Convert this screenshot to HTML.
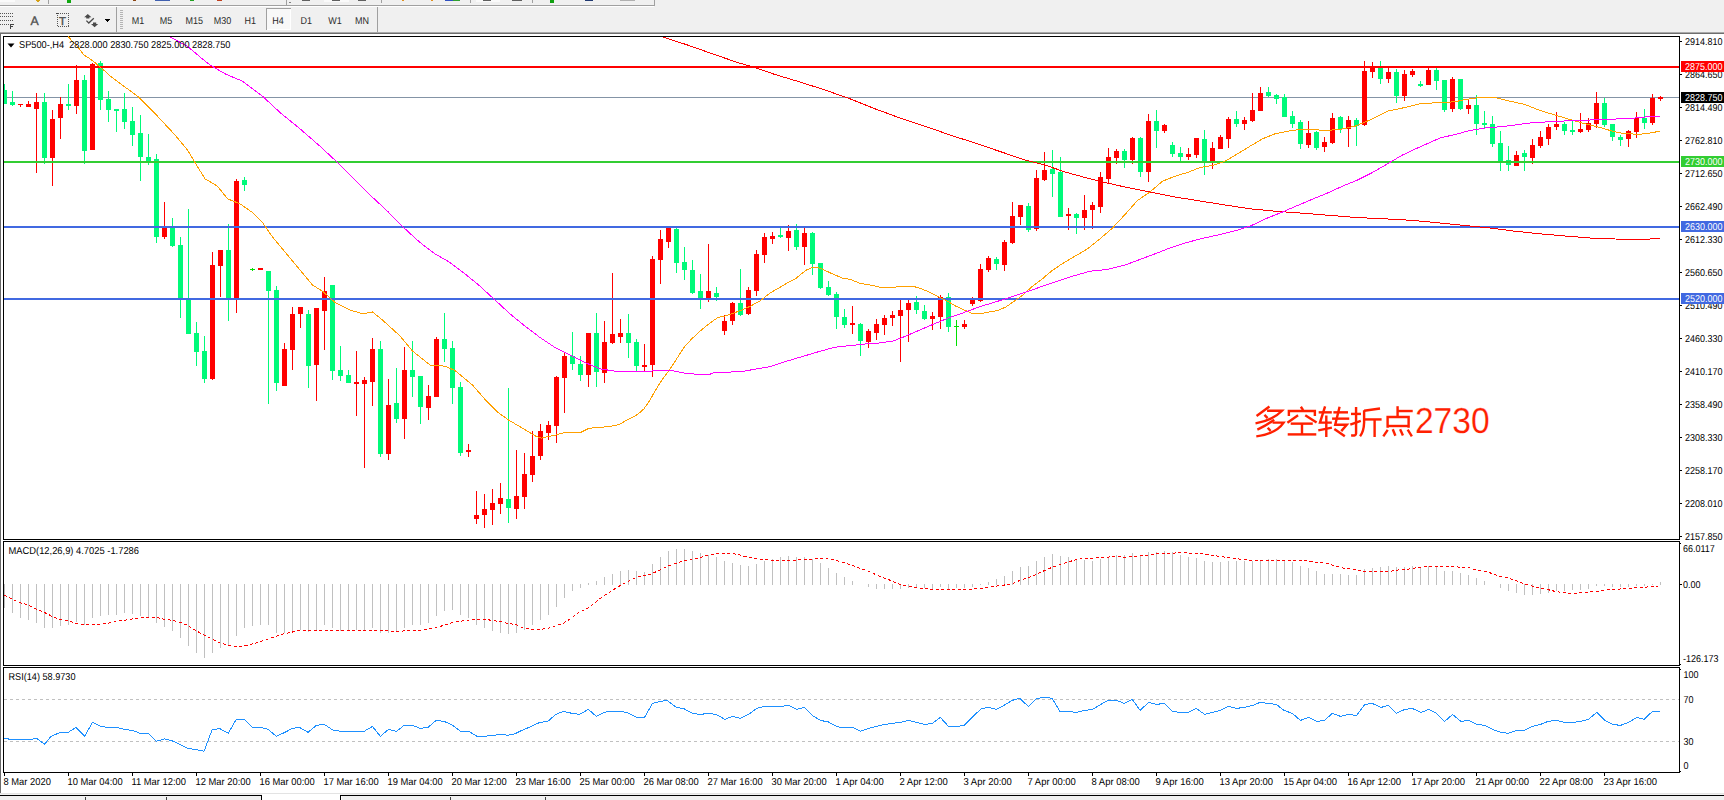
<!DOCTYPE html>
<html><head><meta charset="utf-8"><title>SP500 H4</title>
<style>
html,body{margin:0;padding:0;background:#fff;overflow:hidden}
svg{display:block;font-family:"Liberation Sans",sans-serif}
text{white-space:pre;text-rendering:geometricPrecision}
</style></head><body>
<svg width="1724" height="800" viewBox="0 0 1724 800">
<rect x="0" y="0" width="1724" height="800" fill="#ffffff"/>
<rect x="0" y="0" width="1724" height="32" fill="#f0f0f0"/>
<rect x="0" y="32" width="1724" height="1" fill="#a9a9a9"/>
<rect x="0" y="33" width="1724" height="1" fill="#6e6e6e"/>
<rect x="0" y="34" width="1" height="760" fill="#6a6a6a"/>
<rect x="0" y="5" width="655" height="1" fill="#a0a0a0"/>
<rect x="0" y="6" width="654" height="1" fill="#ffffff"/>
<rect x="654" y="0" width="1" height="6" fill="#a0a0a0"/>
<g shape-rendering="crispEdges">
<rect x="0" y="0" width="15" height="2" fill="#fafafa"/>
<path d="M35 0 h5 l-1 2.6 z" fill="#d4a017"/>
<rect x="48" y="0" width="1" height="4" fill="#a0a0a0"/>
<rect x="67" y="0" width="4" height="3" fill="#10a810"/>
<rect x="133" y="0" width="3" height="1" fill="#8b4513"/>
<rect x="155" y="0" width="15" height="1" fill="#4060b0"/>
<rect x="190" y="0" width="4" height="1" fill="#20a020"/>
<rect x="217" y="0" width="5" height="1" fill="#c04020"/>
<rect x="286" y="0" width="1" height="5" fill="#a0a0a0"/>
<rect x="289" y="2" width="2" height="1" fill="#808080"/>
<rect x="302" y="0" width="8" height="1" fill="#606060"/>
<rect x="324" y="0" width="25" height="2" fill="#fafafa"/>
<rect x="332" y="0" width="8" height="1" fill="#606060"/>
<rect x="358" y="0" width="8" height="1" fill="#606060"/>
<rect x="381" y="0" width="1" height="3" fill="#a0a0a0"/>
<rect x="402" y="0" width="2" height="1" fill="#e09020"/>
<rect x="431" y="0" width="2" height="1" fill="#e09020"/>
<rect x="445" y="0" width="8" height="1" fill="#3050c0"/><rect x="453" y="0" width="7" height="1" fill="#30a030"/>
<rect x="470" y="0" width="1" height="3" fill="#a0a0a0"/>
<rect x="476" y="0" width="24" height="2" fill="#fafafa"/>
<rect x="483" y="0" width="8" height="1" fill="#606060"/>
<rect x="512" y="0" width="10" height="1" fill="#606060"/>
<rect x="532" y="0" width="1" height="3" fill="#a0a0a0"/>
<rect x="550" y="0" width="4" height="3" fill="#10a010"/>
<rect x="585" y="0" width="8" height="1" fill="#203870"/>
<rect x="620" y="0" width="15" height="1" fill="#b0b0b0"/>
</g>

<g shape-rendering="crispEdges">
<!-- fib-like dotted icon -->
<line x1="0" y1="13.5" x2="14" y2="13.5" stroke="#555" stroke-dasharray="1,1"/>
<line x1="0" y1="16.5" x2="14" y2="16.5" stroke="#555" stroke-dasharray="1,1"/>
<line x1="0" y1="20.5" x2="14" y2="20.5" stroke="#555" stroke-dasharray="1,1"/>
<line x1="0" y1="24.5" x2="10" y2="24.5" stroke="#555" stroke-dasharray="1,1"/>
<rect x="10" y="24" width="1" height="5" fill="#444"/><rect x="10" y="24" width="4" height="1" fill="#444"/><rect x="10" y="26" width="3" height="1" fill="#444"/>
<!-- T dotted box -->
<rect x="57.5" y="13.5" width="11" height="13" fill="none" stroke="#555" stroke-dasharray="1,1"/>
<rect x="56" y="13" width="2" height="1" fill="#444"/>
<!-- separators -->
<rect x="116" y="7" width="1" height="25" fill="#a0a0a0"/>
<rect x="377" y="7" width="1" height="25" fill="#a0a0a0"/>
<!-- gripper -->
<line x1="120" y1="10" x2="120" y2="30" stroke="#b4b4b4" stroke-width="1" stroke-dasharray="1,1" transform="translate(0.5,0)"/>
<line x1="121" y1="10" x2="121" y2="30" stroke="#b4b4b4" stroke-width="1" stroke-dasharray="1,1" transform="translate(0.5,0)"/>
<line x1="122" y1="10" x2="122" y2="30" stroke="#b4b4b4" stroke-width="1" stroke-dasharray="1,1" transform="translate(0.5,0)"/>
<!-- H4 pressed -->
<rect x="266" y="8" width="25" height="22" fill="#f8f8f8"/>
<rect x="266" y="8" width="25" height="1" fill="#a0a0a0"/>
<rect x="266" y="8" width="1" height="22" fill="#a0a0a0"/>
<rect x="290" y="9" width="1" height="21" fill="#ffffff"/>
<rect x="267" y="29" width="24" height="1" fill="#ffffff"/>
<!-- dropdown arrow -->
<path d="M105 19 h5 l-2.5 3 z" fill="#000"/>
</g>
<!-- A icon -->
<text x="30.6" y="24.8" font-size="12.3" fill="#505050" stroke="#505050" stroke-width="0.35">A</text>
<text x="59" y="24.7" font-size="11.3" fill="#505050" stroke="#505050" stroke-width="0.45">T</text>
<!-- arrows icon -->
<path d="M87.8 14 l3.6 3.2 h-2 v1.4 h-3.2 v-1.4 h-2 z M94.6 27.2 l3.6 -3.2 h-2 v-1.4 h-3.2 v1.4 h-2 z" fill="#4a4a4a"/>
<path d="M86.4 20.6 l2.4 2.4 l5 -4.8" stroke="#4a4a4a" stroke-width="1.3" fill="none"/>

<text x="131.7" y="23.8" font-size="10.0" fill="#2a2a2a" textLength="12.50" lengthAdjust="spacingAndGlyphs">M1</text>
<text x="159.7" y="23.8" font-size="10.0" fill="#2a2a2a" textLength="12.50" lengthAdjust="spacingAndGlyphs">M5</text>
<text x="185.5" y="23.8" font-size="10.0" fill="#2a2a2a" textLength="17.51" lengthAdjust="spacingAndGlyphs">M15</text>
<text x="213.7" y="23.8" font-size="10.0" fill="#2a2a2a" textLength="17.51" lengthAdjust="spacingAndGlyphs">M30</text>
<text x="244.6" y="23.8" font-size="10.0" fill="#2a2a2a" textLength="11.50" lengthAdjust="spacingAndGlyphs">H1</text>
<text x="272.2" y="23.8" font-size="10.0" fill="#2a2a2a" textLength="11.50" lengthAdjust="spacingAndGlyphs">H4</text>
<text x="300.6" y="23.8" font-size="10.0" fill="#2a2a2a" textLength="11.50" lengthAdjust="spacingAndGlyphs">D1</text>
<text x="328.2" y="23.8" font-size="10.0" fill="#2a2a2a" textLength="13.50" lengthAdjust="spacingAndGlyphs">W1</text>
<text x="355.0" y="23.8" font-size="10.0" fill="#2a2a2a" textLength="14.00" lengthAdjust="spacingAndGlyphs">MN</text>
<rect x="3" y="36" width="1677" height="1" fill="#000"/>
<rect x="3" y="539" width="1677" height="1" fill="#000"/>
<rect x="3" y="36" width="1" height="504" fill="#000"/>
<rect x="1679" y="36" width="1" height="504" fill="#000"/>
<rect x="3" y="541" width="1677" height="1" fill="#000"/>
<rect x="3" y="665" width="1677" height="1" fill="#000"/>
<rect x="3" y="541" width="1" height="125" fill="#000"/>
<rect x="1679" y="541" width="1" height="125" fill="#000"/>
<rect x="3" y="667" width="1677" height="1" fill="#000"/>
<rect x="3" y="772" width="1677" height="1" fill="#000"/>
<rect x="3" y="667" width="1" height="106" fill="#000"/>
<rect x="1679" y="667" width="1" height="106" fill="#000"/>
<g shape-rendering="crispEdges">
<rect x="4" y="97" width="1675" height="1" fill="#8494a6"/>
<rect x="4" y="84" width="1" height="20" fill="#00fa7a"/>
<rect x="4" y="90" width="3" height="14" fill="#00fa7a"/>
<rect x="12" y="91" width="1" height="15" fill="#00fa7a"/>
<rect x="10" y="102" width="5" height="3" fill="#00fa7a"/>
<rect x="20" y="104" width="1" height="3" fill="#ff0000"/>
<rect x="18" y="104" width="5" height="1" fill="#ff0000"/>
<rect x="28" y="101" width="1" height="6" fill="#ff0000"/>
<rect x="26" y="104" width="5" height="3" fill="#ff0000"/>
<rect x="36" y="93" width="1" height="80" fill="#ff0000"/>
<rect x="34" y="102" width="5" height="7" fill="#ff0000"/>
<rect x="44" y="93" width="1" height="71" fill="#00fa7a"/>
<rect x="42" y="102" width="5" height="56" fill="#00fa7a"/>
<rect x="52" y="110" width="1" height="76" fill="#ff0000"/>
<rect x="50" y="119" width="5" height="39" fill="#ff0000"/>
<rect x="60" y="97" width="1" height="42" fill="#ff0000"/>
<rect x="58" y="104" width="5" height="14" fill="#ff0000"/>
<rect x="68" y="84" width="1" height="26" fill="#00fa7a"/>
<rect x="66" y="104" width="5" height="2" fill="#00fa7a"/>
<rect x="76" y="65" width="1" height="49" fill="#ff0000"/>
<rect x="74" y="80" width="5" height="26" fill="#ff0000"/>
<rect x="84" y="75" width="1" height="89" fill="#00fa7a"/>
<rect x="82" y="80" width="5" height="71" fill="#00fa7a"/>
<rect x="92" y="63" width="1" height="87" fill="#ff0000"/>
<rect x="90" y="64" width="5" height="86" fill="#ff0000"/>
<rect x="100" y="61" width="1" height="49" fill="#00fa7a"/>
<rect x="98" y="63" width="5" height="37" fill="#00fa7a"/>
<rect x="108" y="91" width="1" height="31" fill="#00fa7a"/>
<rect x="106" y="99" width="5" height="11" fill="#00fa7a"/>
<rect x="116" y="109" width="1" height="23" fill="#00fa7a"/>
<rect x="114" y="109" width="5" height="2" fill="#00fa7a"/>
<rect x="124" y="93" width="1" height="36" fill="#00fa7a"/>
<rect x="122" y="109" width="5" height="13" fill="#00fa7a"/>
<rect x="132" y="107" width="1" height="39" fill="#00fa7a"/>
<rect x="130" y="121" width="5" height="14" fill="#00fa7a"/>
<rect x="140" y="115" width="1" height="66" fill="#00fa7a"/>
<rect x="138" y="133" width="5" height="24" fill="#00fa7a"/>
<rect x="148" y="134" width="1" height="31" fill="#00fa7a"/>
<rect x="146" y="157" width="5" height="5" fill="#00fa7a"/>
<rect x="156" y="154" width="1" height="89" fill="#00fa7a"/>
<rect x="154" y="159" width="5" height="78" fill="#00fa7a"/>
<rect x="164" y="202" width="1" height="37" fill="#ff0000"/>
<rect x="162" y="228" width="5" height="9" fill="#ff0000"/>
<rect x="172" y="218" width="1" height="29" fill="#00fa7a"/>
<rect x="170" y="228" width="5" height="18" fill="#00fa7a"/>
<rect x="180" y="237" width="1" height="81" fill="#00fa7a"/>
<rect x="178" y="245" width="5" height="53" fill="#00fa7a"/>
<rect x="188" y="209" width="1" height="125" fill="#00fa7a"/>
<rect x="186" y="298" width="5" height="36" fill="#00fa7a"/>
<rect x="196" y="322" width="1" height="44" fill="#00fa7a"/>
<rect x="194" y="333" width="5" height="19" fill="#00fa7a"/>
<rect x="204" y="336" width="1" height="47" fill="#00fa7a"/>
<rect x="202" y="351" width="5" height="28" fill="#00fa7a"/>
<rect x="212" y="252" width="1" height="128" fill="#ff0000"/>
<rect x="210" y="265" width="5" height="114" fill="#ff0000"/>
<rect x="220" y="250" width="1" height="47" fill="#ff0000"/>
<rect x="218" y="250" width="5" height="16" fill="#ff0000"/>
<rect x="228" y="224" width="1" height="97" fill="#00fa7a"/>
<rect x="226" y="250" width="5" height="48" fill="#00fa7a"/>
<rect x="236" y="179" width="1" height="134" fill="#ff0000"/>
<rect x="234" y="181" width="5" height="117" fill="#ff0000"/>
<rect x="244" y="177" width="1" height="14" fill="#00fa7a"/>
<rect x="242" y="180" width="5" height="5" fill="#00fa7a"/>
<rect x="252" y="268" width="1" height="3" fill="#00e000"/>
<rect x="250" y="269" width="5" height="1" fill="#00e000"/>
<rect x="260" y="268" width="1" height="2" fill="#ff0000"/>
<rect x="258" y="268" width="5" height="2" fill="#ff0000"/>
<rect x="268" y="271" width="1" height="133" fill="#00fa7a"/>
<rect x="266" y="271" width="5" height="20" fill="#00fa7a"/>
<rect x="276" y="286" width="1" height="105" fill="#00fa7a"/>
<rect x="274" y="290" width="5" height="93" fill="#00fa7a"/>
<rect x="284" y="343" width="1" height="43" fill="#ff0000"/>
<rect x="282" y="349" width="5" height="37" fill="#ff0000"/>
<rect x="292" y="307" width="1" height="63" fill="#ff0000"/>
<rect x="290" y="314" width="5" height="36" fill="#ff0000"/>
<rect x="300" y="307" width="1" height="21" fill="#ff0000"/>
<rect x="298" y="307" width="5" height="7" fill="#ff0000"/>
<rect x="308" y="310" width="1" height="78" fill="#00fa7a"/>
<rect x="306" y="314" width="5" height="52" fill="#00fa7a"/>
<rect x="316" y="308" width="1" height="93" fill="#ff0000"/>
<rect x="314" y="308" width="5" height="57" fill="#ff0000"/>
<rect x="324" y="277" width="1" height="73" fill="#ff0000"/>
<rect x="322" y="291" width="5" height="20" fill="#ff0000"/>
<rect x="332" y="285" width="1" height="95" fill="#00fa7a"/>
<rect x="330" y="285" width="5" height="86" fill="#00fa7a"/>
<rect x="340" y="346" width="1" height="35" fill="#00fa7a"/>
<rect x="338" y="370" width="5" height="6" fill="#00fa7a"/>
<rect x="348" y="370" width="1" height="13" fill="#00fa7a"/>
<rect x="346" y="375" width="5" height="8" fill="#00fa7a"/>
<rect x="356" y="351" width="1" height="65" fill="#ff0000"/>
<rect x="354" y="382" width="5" height="2" fill="#ff0000"/>
<rect x="364" y="377" width="1" height="91" fill="#ff0000"/>
<rect x="362" y="380" width="5" height="4" fill="#ff0000"/>
<rect x="372" y="338" width="1" height="68" fill="#ff0000"/>
<rect x="370" y="349" width="5" height="33" fill="#ff0000"/>
<rect x="380" y="341" width="1" height="116" fill="#00fa7a"/>
<rect x="378" y="349" width="5" height="105" fill="#00fa7a"/>
<rect x="388" y="379" width="1" height="81" fill="#ff0000"/>
<rect x="386" y="405" width="5" height="49" fill="#ff0000"/>
<rect x="396" y="368" width="1" height="55" fill="#00fa7a"/>
<rect x="394" y="403" width="5" height="16" fill="#00fa7a"/>
<rect x="404" y="347" width="1" height="92" fill="#ff0000"/>
<rect x="402" y="370" width="5" height="49" fill="#ff0000"/>
<rect x="412" y="341" width="1" height="56" fill="#00fa7a"/>
<rect x="410" y="370" width="5" height="7" fill="#00fa7a"/>
<rect x="420" y="376" width="1" height="48" fill="#00fa7a"/>
<rect x="418" y="376" width="5" height="31" fill="#00fa7a"/>
<rect x="428" y="385" width="1" height="35" fill="#ff0000"/>
<rect x="426" y="396" width="5" height="12" fill="#ff0000"/>
<rect x="436" y="337" width="1" height="60" fill="#ff0000"/>
<rect x="434" y="339" width="5" height="58" fill="#ff0000"/>
<rect x="444" y="313" width="1" height="49" fill="#00fa7a"/>
<rect x="442" y="339" width="5" height="10" fill="#00fa7a"/>
<rect x="452" y="341" width="1" height="63" fill="#00fa7a"/>
<rect x="450" y="348" width="5" height="40" fill="#00fa7a"/>
<rect x="460" y="382" width="1" height="74" fill="#00fa7a"/>
<rect x="458" y="387" width="5" height="66" fill="#00fa7a"/>
<rect x="468" y="444" width="1" height="13" fill="#ff0000"/>
<rect x="466" y="450" width="5" height="2" fill="#ff0000"/>
<rect x="476" y="491" width="1" height="33" fill="#ff0000"/>
<rect x="474" y="515" width="5" height="4" fill="#ff0000"/>
<rect x="484" y="494" width="1" height="34" fill="#ff0000"/>
<rect x="482" y="509" width="5" height="6" fill="#ff0000"/>
<rect x="492" y="489" width="1" height="36" fill="#ff0000"/>
<rect x="490" y="503" width="5" height="7" fill="#ff0000"/>
<rect x="500" y="483" width="1" height="31" fill="#ff0000"/>
<rect x="498" y="498" width="5" height="6" fill="#ff0000"/>
<rect x="508" y="388" width="1" height="135" fill="#00fa7a"/>
<rect x="506" y="499" width="5" height="9" fill="#00fa7a"/>
<rect x="516" y="450" width="1" height="69" fill="#ff0000"/>
<rect x="514" y="496" width="5" height="13" fill="#ff0000"/>
<rect x="524" y="453" width="1" height="56" fill="#ff0000"/>
<rect x="522" y="474" width="5" height="23" fill="#ff0000"/>
<rect x="532" y="431" width="1" height="51" fill="#ff0000"/>
<rect x="530" y="456" width="5" height="19" fill="#ff0000"/>
<rect x="540" y="424" width="1" height="36" fill="#ff0000"/>
<rect x="538" y="431" width="5" height="25" fill="#ff0000"/>
<rect x="548" y="421" width="1" height="19" fill="#ff0000"/>
<rect x="546" y="425" width="5" height="8" fill="#ff0000"/>
<rect x="556" y="376" width="1" height="67" fill="#ff0000"/>
<rect x="554" y="377" width="5" height="49" fill="#ff0000"/>
<rect x="564" y="353" width="1" height="60" fill="#ff0000"/>
<rect x="562" y="356" width="5" height="22" fill="#ff0000"/>
<rect x="572" y="332" width="1" height="38" fill="#00fa7a"/>
<rect x="570" y="356" width="5" height="8" fill="#00fa7a"/>
<rect x="580" y="356" width="1" height="25" fill="#00fa7a"/>
<rect x="578" y="364" width="5" height="11" fill="#00fa7a"/>
<rect x="588" y="333" width="1" height="54" fill="#ff0000"/>
<rect x="586" y="333" width="5" height="42" fill="#ff0000"/>
<rect x="596" y="313" width="1" height="74" fill="#00fa7a"/>
<rect x="594" y="333" width="5" height="39" fill="#00fa7a"/>
<rect x="604" y="321" width="1" height="62" fill="#ff0000"/>
<rect x="602" y="342" width="5" height="31" fill="#ff0000"/>
<rect x="612" y="273" width="1" height="71" fill="#ff0000"/>
<rect x="610" y="334" width="5" height="9" fill="#ff0000"/>
<rect x="620" y="319" width="1" height="24" fill="#ff0000"/>
<rect x="618" y="333" width="5" height="4" fill="#ff0000"/>
<rect x="628" y="314" width="1" height="44" fill="#00fa7a"/>
<rect x="626" y="333" width="5" height="10" fill="#00fa7a"/>
<rect x="636" y="339" width="1" height="32" fill="#00fa7a"/>
<rect x="634" y="342" width="5" height="24" fill="#00fa7a"/>
<rect x="644" y="344" width="1" height="27" fill="#ff0000"/>
<rect x="642" y="365" width="5" height="2" fill="#ff0000"/>
<rect x="652" y="256" width="1" height="121" fill="#ff0000"/>
<rect x="650" y="259" width="5" height="106" fill="#ff0000"/>
<rect x="660" y="230" width="1" height="54" fill="#ff0000"/>
<rect x="658" y="239" width="5" height="21" fill="#ff0000"/>
<rect x="668" y="227" width="1" height="21" fill="#ff0000"/>
<rect x="666" y="227" width="5" height="15" fill="#ff0000"/>
<rect x="676" y="227" width="1" height="46" fill="#00fa7a"/>
<rect x="674" y="229" width="5" height="34" fill="#00fa7a"/>
<rect x="684" y="247" width="1" height="33" fill="#00fa7a"/>
<rect x="682" y="262" width="5" height="8" fill="#00fa7a"/>
<rect x="692" y="260" width="1" height="34" fill="#00fa7a"/>
<rect x="690" y="270" width="5" height="23" fill="#00fa7a"/>
<rect x="700" y="274" width="1" height="35" fill="#00fa7a"/>
<rect x="698" y="291" width="5" height="7" fill="#00fa7a"/>
<rect x="708" y="244" width="1" height="58" fill="#ff0000"/>
<rect x="706" y="291" width="5" height="8" fill="#ff0000"/>
<rect x="716" y="287" width="1" height="14" fill="#00fa7a"/>
<rect x="714" y="293" width="5" height="4" fill="#00fa7a"/>
<rect x="724" y="315" width="1" height="20" fill="#ff0000"/>
<rect x="722" y="321" width="5" height="10" fill="#ff0000"/>
<rect x="732" y="302" width="1" height="23" fill="#ff0000"/>
<rect x="730" y="303" width="5" height="18" fill="#ff0000"/>
<rect x="740" y="269" width="1" height="47" fill="#00fa7a"/>
<rect x="738" y="303" width="5" height="12" fill="#00fa7a"/>
<rect x="748" y="287" width="1" height="28" fill="#ff0000"/>
<rect x="746" y="290" width="5" height="24" fill="#ff0000"/>
<rect x="756" y="250" width="1" height="46" fill="#ff0000"/>
<rect x="754" y="254" width="5" height="37" fill="#ff0000"/>
<rect x="764" y="233" width="1" height="30" fill="#ff0000"/>
<rect x="762" y="237" width="5" height="18" fill="#ff0000"/>
<rect x="772" y="232" width="1" height="12" fill="#ff0000"/>
<rect x="770" y="236" width="5" height="3" fill="#ff0000"/>
<rect x="780" y="227" width="1" height="11" fill="#00fa7a"/>
<rect x="778" y="235" width="5" height="2" fill="#00fa7a"/>
<rect x="788" y="225" width="1" height="26" fill="#ff0000"/>
<rect x="786" y="231" width="5" height="7" fill="#ff0000"/>
<rect x="796" y="224" width="1" height="26" fill="#00fa7a"/>
<rect x="794" y="230" width="5" height="17" fill="#00fa7a"/>
<rect x="804" y="228" width="1" height="37" fill="#ff0000"/>
<rect x="802" y="233" width="5" height="14" fill="#ff0000"/>
<rect x="812" y="232" width="1" height="43" fill="#00fa7a"/>
<rect x="810" y="233" width="5" height="31" fill="#00fa7a"/>
<rect x="820" y="263" width="1" height="26" fill="#00fa7a"/>
<rect x="818" y="263" width="5" height="25" fill="#00fa7a"/>
<rect x="828" y="281" width="1" height="15" fill="#00fa7a"/>
<rect x="826" y="287" width="5" height="8" fill="#00fa7a"/>
<rect x="836" y="292" width="1" height="37" fill="#00fa7a"/>
<rect x="834" y="294" width="5" height="23" fill="#00fa7a"/>
<rect x="844" y="309" width="1" height="19" fill="#00fa7a"/>
<rect x="842" y="317" width="5" height="8" fill="#00fa7a"/>
<rect x="852" y="306" width="1" height="28" fill="#ff0000"/>
<rect x="850" y="323" width="5" height="2" fill="#ff0000"/>
<rect x="860" y="323" width="1" height="33" fill="#00fa7a"/>
<rect x="858" y="324" width="5" height="17" fill="#00fa7a"/>
<rect x="868" y="329" width="1" height="19" fill="#ff0000"/>
<rect x="866" y="331" width="5" height="11" fill="#ff0000"/>
<rect x="876" y="319" width="1" height="21" fill="#ff0000"/>
<rect x="874" y="324" width="5" height="9" fill="#ff0000"/>
<rect x="884" y="315" width="1" height="20" fill="#ff0000"/>
<rect x="882" y="318" width="5" height="7" fill="#ff0000"/>
<rect x="892" y="311" width="1" height="15" fill="#ff0000"/>
<rect x="890" y="315" width="5" height="3" fill="#ff0000"/>
<rect x="900" y="300" width="1" height="62" fill="#ff0000"/>
<rect x="898" y="310" width="5" height="6" fill="#ff0000"/>
<rect x="908" y="300" width="1" height="42" fill="#ff0000"/>
<rect x="906" y="303" width="5" height="7" fill="#ff0000"/>
<rect x="916" y="296" width="1" height="18" fill="#00fa7a"/>
<rect x="914" y="302" width="5" height="8" fill="#00fa7a"/>
<rect x="924" y="305" width="1" height="15" fill="#00fa7a"/>
<rect x="922" y="311" width="5" height="8" fill="#00fa7a"/>
<rect x="932" y="312" width="1" height="18" fill="#ff0000"/>
<rect x="930" y="316" width="5" height="3" fill="#ff0000"/>
<rect x="940" y="295" width="1" height="34" fill="#ff0000"/>
<rect x="938" y="297" width="5" height="20" fill="#ff0000"/>
<rect x="948" y="293" width="1" height="39" fill="#00fa7a"/>
<rect x="946" y="297" width="5" height="30" fill="#00fa7a"/>
<rect x="956" y="320" width="1" height="26" fill="#00e000"/>
<rect x="954" y="326" width="5" height="1" fill="#00e000"/>
<rect x="964" y="320" width="1" height="9" fill="#ff0000"/>
<rect x="962" y="324" width="5" height="3" fill="#ff0000"/>
<rect x="972" y="297" width="1" height="9" fill="#ff0000"/>
<rect x="970" y="299" width="5" height="5" fill="#ff0000"/>
<rect x="980" y="264" width="1" height="38" fill="#ff0000"/>
<rect x="978" y="269" width="5" height="32" fill="#ff0000"/>
<rect x="988" y="256" width="1" height="16" fill="#ff0000"/>
<rect x="986" y="258" width="5" height="12" fill="#ff0000"/>
<rect x="996" y="257" width="1" height="13" fill="#00fa7a"/>
<rect x="994" y="259" width="5" height="5" fill="#00fa7a"/>
<rect x="1004" y="240" width="1" height="31" fill="#ff0000"/>
<rect x="1002" y="242" width="5" height="23" fill="#ff0000"/>
<rect x="1012" y="202" width="1" height="42" fill="#ff0000"/>
<rect x="1010" y="216" width="5" height="27" fill="#ff0000"/>
<rect x="1020" y="205" width="1" height="20" fill="#ff0000"/>
<rect x="1018" y="205" width="5" height="12" fill="#ff0000"/>
<rect x="1028" y="203" width="1" height="29" fill="#00fa7a"/>
<rect x="1026" y="206" width="5" height="24" fill="#00fa7a"/>
<rect x="1036" y="170" width="1" height="61" fill="#ff0000"/>
<rect x="1034" y="178" width="5" height="51" fill="#ff0000"/>
<rect x="1044" y="152" width="1" height="29" fill="#ff0000"/>
<rect x="1042" y="170" width="5" height="10" fill="#ff0000"/>
<rect x="1052" y="150" width="1" height="47" fill="#00fa7a"/>
<rect x="1050" y="169" width="5" height="5" fill="#00fa7a"/>
<rect x="1060" y="157" width="1" height="60" fill="#00fa7a"/>
<rect x="1058" y="172" width="5" height="45" fill="#00fa7a"/>
<rect x="1068" y="208" width="1" height="22" fill="#ff0000"/>
<rect x="1066" y="214" width="5" height="2" fill="#ff0000"/>
<rect x="1076" y="213" width="1" height="21" fill="#00fa7a"/>
<rect x="1074" y="214" width="5" height="4" fill="#00fa7a"/>
<rect x="1084" y="195" width="1" height="35" fill="#ff0000"/>
<rect x="1082" y="210" width="5" height="8" fill="#ff0000"/>
<rect x="1092" y="202" width="1" height="27" fill="#ff0000"/>
<rect x="1090" y="205" width="5" height="5" fill="#ff0000"/>
<rect x="1100" y="172" width="1" height="41" fill="#ff0000"/>
<rect x="1098" y="177" width="5" height="30" fill="#ff0000"/>
<rect x="1108" y="148" width="1" height="35" fill="#ff0000"/>
<rect x="1106" y="157" width="5" height="22" fill="#ff0000"/>
<rect x="1116" y="149" width="1" height="15" fill="#ff0000"/>
<rect x="1114" y="151" width="5" height="7" fill="#ff0000"/>
<rect x="1124" y="149" width="1" height="19" fill="#00fa7a"/>
<rect x="1122" y="151" width="5" height="9" fill="#00fa7a"/>
<rect x="1132" y="137" width="1" height="27" fill="#ff0000"/>
<rect x="1130" y="138" width="5" height="22" fill="#ff0000"/>
<rect x="1140" y="137" width="1" height="40" fill="#00fa7a"/>
<rect x="1138" y="138" width="5" height="34" fill="#00fa7a"/>
<rect x="1148" y="114" width="1" height="68" fill="#ff0000"/>
<rect x="1146" y="121" width="5" height="51" fill="#ff0000"/>
<rect x="1156" y="110" width="1" height="38" fill="#00fa7a"/>
<rect x="1154" y="121" width="5" height="10" fill="#00fa7a"/>
<rect x="1164" y="124" width="1" height="9" fill="#ff0000"/>
<rect x="1162" y="125" width="5" height="6" fill="#ff0000"/>
<rect x="1172" y="142" width="1" height="15" fill="#00fa7a"/>
<rect x="1170" y="145" width="5" height="9" fill="#00fa7a"/>
<rect x="1180" y="147" width="1" height="14" fill="#00fa7a"/>
<rect x="1178" y="153" width="5" height="4" fill="#00fa7a"/>
<rect x="1188" y="148" width="1" height="12" fill="#ff0000"/>
<rect x="1186" y="154" width="5" height="3" fill="#ff0000"/>
<rect x="1196" y="138" width="1" height="20" fill="#ff0000"/>
<rect x="1194" y="138" width="5" height="17" fill="#ff0000"/>
<rect x="1204" y="130" width="1" height="45" fill="#00fa7a"/>
<rect x="1202" y="139" width="5" height="23" fill="#00fa7a"/>
<rect x="1212" y="142" width="1" height="27" fill="#ff0000"/>
<rect x="1210" y="148" width="5" height="14" fill="#ff0000"/>
<rect x="1220" y="135" width="1" height="14" fill="#ff0000"/>
<rect x="1218" y="137" width="5" height="12" fill="#ff0000"/>
<rect x="1228" y="117" width="1" height="31" fill="#ff0000"/>
<rect x="1226" y="119" width="5" height="20" fill="#ff0000"/>
<rect x="1236" y="111" width="1" height="16" fill="#00fa7a"/>
<rect x="1234" y="119" width="5" height="5" fill="#00fa7a"/>
<rect x="1244" y="117" width="1" height="13" fill="#ff0000"/>
<rect x="1242" y="120" width="5" height="4" fill="#ff0000"/>
<rect x="1252" y="93" width="1" height="29" fill="#ff0000"/>
<rect x="1250" y="110" width="5" height="11" fill="#ff0000"/>
<rect x="1260" y="87" width="1" height="24" fill="#ff0000"/>
<rect x="1258" y="93" width="5" height="18" fill="#ff0000"/>
<rect x="1268" y="87" width="1" height="10" fill="#00fa7a"/>
<rect x="1266" y="92" width="5" height="4" fill="#00fa7a"/>
<rect x="1276" y="94" width="1" height="10" fill="#00fa7a"/>
<rect x="1274" y="95" width="5" height="4" fill="#00fa7a"/>
<rect x="1284" y="94" width="1" height="23" fill="#00fa7a"/>
<rect x="1282" y="97" width="5" height="20" fill="#00fa7a"/>
<rect x="1292" y="111" width="1" height="17" fill="#00fa7a"/>
<rect x="1290" y="116" width="5" height="8" fill="#00fa7a"/>
<rect x="1300" y="120" width="1" height="29" fill="#00fa7a"/>
<rect x="1298" y="122" width="5" height="22" fill="#00fa7a"/>
<rect x="1308" y="121" width="1" height="27" fill="#ff0000"/>
<rect x="1306" y="133" width="5" height="12" fill="#ff0000"/>
<rect x="1316" y="131" width="1" height="19" fill="#00fa7a"/>
<rect x="1314" y="132" width="5" height="16" fill="#00fa7a"/>
<rect x="1324" y="137" width="1" height="15" fill="#ff0000"/>
<rect x="1322" y="142" width="5" height="5" fill="#ff0000"/>
<rect x="1332" y="113" width="1" height="31" fill="#ff0000"/>
<rect x="1330" y="118" width="5" height="25" fill="#ff0000"/>
<rect x="1340" y="116" width="1" height="17" fill="#00fa7a"/>
<rect x="1338" y="117" width="5" height="12" fill="#00fa7a"/>
<rect x="1348" y="116" width="1" height="31" fill="#ff0000"/>
<rect x="1346" y="120" width="5" height="9" fill="#ff0000"/>
<rect x="1356" y="118" width="1" height="28" fill="#00fa7a"/>
<rect x="1354" y="120" width="5" height="6" fill="#00fa7a"/>
<rect x="1364" y="61" width="1" height="65" fill="#ff0000"/>
<rect x="1362" y="71" width="5" height="54" fill="#ff0000"/>
<rect x="1372" y="62" width="1" height="16" fill="#ff0000"/>
<rect x="1370" y="67" width="5" height="5" fill="#ff0000"/>
<rect x="1380" y="61" width="1" height="23" fill="#00fa7a"/>
<rect x="1378" y="68" width="5" height="11" fill="#00fa7a"/>
<rect x="1388" y="68" width="1" height="15" fill="#ff0000"/>
<rect x="1386" y="72" width="5" height="7" fill="#ff0000"/>
<rect x="1396" y="69" width="1" height="34" fill="#00fa7a"/>
<rect x="1394" y="72" width="5" height="24" fill="#00fa7a"/>
<rect x="1404" y="70" width="1" height="31" fill="#ff0000"/>
<rect x="1402" y="74" width="5" height="22" fill="#ff0000"/>
<rect x="1412" y="69" width="1" height="8" fill="#ff0000"/>
<rect x="1410" y="71" width="5" height="4" fill="#ff0000"/>
<rect x="1420" y="81" width="1" height="6" fill="#00fa7a"/>
<rect x="1418" y="84" width="5" height="2" fill="#00fa7a"/>
<rect x="1428" y="68" width="1" height="17" fill="#ff0000"/>
<rect x="1426" y="70" width="5" height="15" fill="#ff0000"/>
<rect x="1436" y="68" width="1" height="22" fill="#00fa7a"/>
<rect x="1434" y="70" width="5" height="11" fill="#00fa7a"/>
<rect x="1444" y="80" width="1" height="32" fill="#00fa7a"/>
<rect x="1442" y="80" width="5" height="30" fill="#00fa7a"/>
<rect x="1452" y="77" width="1" height="35" fill="#ff0000"/>
<rect x="1450" y="79" width="5" height="30" fill="#ff0000"/>
<rect x="1460" y="79" width="1" height="31" fill="#00fa7a"/>
<rect x="1458" y="79" width="5" height="30" fill="#00fa7a"/>
<rect x="1468" y="100" width="1" height="14" fill="#ff0000"/>
<rect x="1466" y="105" width="5" height="4" fill="#ff0000"/>
<rect x="1476" y="95" width="1" height="40" fill="#00fa7a"/>
<rect x="1474" y="105" width="5" height="19" fill="#00fa7a"/>
<rect x="1484" y="111" width="1" height="17" fill="#00fa7a"/>
<rect x="1482" y="123" width="5" height="2" fill="#00fa7a"/>
<rect x="1492" y="116" width="1" height="31" fill="#00fa7a"/>
<rect x="1490" y="124" width="5" height="20" fill="#00fa7a"/>
<rect x="1500" y="131" width="1" height="40" fill="#00fa7a"/>
<rect x="1498" y="143" width="5" height="19" fill="#00fa7a"/>
<rect x="1508" y="146" width="1" height="25" fill="#00fa7a"/>
<rect x="1506" y="160" width="5" height="5" fill="#00fa7a"/>
<rect x="1516" y="151" width="1" height="15" fill="#ff0000"/>
<rect x="1514" y="155" width="5" height="11" fill="#ff0000"/>
<rect x="1524" y="150" width="1" height="21" fill="#00fa7a"/>
<rect x="1522" y="153" width="5" height="4" fill="#00fa7a"/>
<rect x="1532" y="139" width="1" height="25" fill="#ff0000"/>
<rect x="1530" y="145" width="5" height="13" fill="#ff0000"/>
<rect x="1540" y="131" width="1" height="17" fill="#ff0000"/>
<rect x="1538" y="137" width="5" height="9" fill="#ff0000"/>
<rect x="1548" y="124" width="1" height="21" fill="#ff0000"/>
<rect x="1546" y="127" width="5" height="12" fill="#ff0000"/>
<rect x="1556" y="112" width="1" height="18" fill="#ff0000"/>
<rect x="1554" y="124" width="5" height="3" fill="#ff0000"/>
<rect x="1564" y="122" width="1" height="13" fill="#00fa7a"/>
<rect x="1562" y="124" width="5" height="7" fill="#00fa7a"/>
<rect x="1572" y="120" width="1" height="15" fill="#00fa7a"/>
<rect x="1570" y="130" width="5" height="2" fill="#00fa7a"/>
<rect x="1580" y="113" width="1" height="20" fill="#ff0000"/>
<rect x="1578" y="129" width="5" height="3" fill="#ff0000"/>
<rect x="1588" y="118" width="1" height="14" fill="#ff0000"/>
<rect x="1586" y="123" width="5" height="7" fill="#ff0000"/>
<rect x="1596" y="92" width="1" height="36" fill="#ff0000"/>
<rect x="1594" y="103" width="5" height="21" fill="#ff0000"/>
<rect x="1604" y="98" width="1" height="29" fill="#00fa7a"/>
<rect x="1602" y="103" width="5" height="22" fill="#00fa7a"/>
<rect x="1612" y="124" width="1" height="17" fill="#00fa7a"/>
<rect x="1610" y="124" width="5" height="13" fill="#00fa7a"/>
<rect x="1620" y="135" width="1" height="11" fill="#00fa7a"/>
<rect x="1618" y="137" width="5" height="3" fill="#00fa7a"/>
<rect x="1628" y="130" width="1" height="17" fill="#ff0000"/>
<rect x="1626" y="131" width="5" height="8" fill="#ff0000"/>
<rect x="1636" y="112" width="1" height="26" fill="#ff0000"/>
<rect x="1634" y="118" width="5" height="14" fill="#ff0000"/>
<rect x="1644" y="109" width="1" height="20" fill="#00fa7a"/>
<rect x="1642" y="118" width="5" height="5" fill="#00fa7a"/>
<rect x="1652" y="94" width="1" height="31" fill="#ff0000"/>
<rect x="1650" y="98" width="5" height="25" fill="#ff0000"/>
<rect x="1660" y="96" width="1" height="5" fill="#ff0000"/>
<rect x="1658" y="97" width="5" height="2" fill="#ff0000"/>
<rect x="4" y="66" width="1675" height="2" fill="#ff0000"/>
<rect x="4" y="161" width="1675" height="2" fill="#32cd32"/>
<rect x="4" y="226" width="1675" height="2" fill="#4169e1"/>
<rect x="4" y="298" width="1675" height="2" fill="#4169e1"/>
<polyline points="662.5,36.8 687.5,45.0 712.5,53.8 737.5,62.5 755.0,67.5 775.0,74.5 800.0,82.0 825.0,90.0 850.0,98.8 875.0,108.8 900.0,118.0 925.0,126.2 950.0,135.0 975.0,143.0 1000.0,151.5 1025.0,160.0 1045.0,165.0 1065.0,172.0 1085.0,177.5 1105.0,182.5 1125.0,187.0 1150.0,192.0 1175.0,197.0 1200.0,201.0 1225.0,205.0 1250.0,208.8 1275.0,211.2 1300.0,213.0 1325.0,215.0 1350.0,217.0 1375.0,218.5 1400.0,219.5 1425.0,221.5 1440.0,223.0 1465.0,225.5 1490.0,228.0 1515.0,231.2 1540.0,233.8 1565.0,236.0 1590.0,238.0 1615.0,239.0 1640.0,239.5 1660.0,238.5" fill="none" stroke="#ff0000" stroke-width="1"/>
<polyline points="68.2,36.8 77.6,46.5 84.0,55.3 87.9,57.3 90.9,59.4 96.0,63.5 101.4,68.4 104.1,70.4 109.5,75.5 112.2,77.4 120.2,83.5 137.5,96.2 157.5,116.2 175.0,135.0 187.5,150.0 195.0,162.5 205.0,178.8 217.5,186.2 227.5,198.8 240.0,203.8 252.5,212.5 262.5,222.5 272.5,237.0 287.5,255.0 300.0,270.0 312.5,285.0 322.5,291.2 335.0,302.5 350.0,310.0 362.5,313.8 372.5,312.0 382.5,320.0 400.0,336.0 412.5,351.0 430.0,365.0 445.0,366.2 455.0,370.5 472.5,385.0 486.3,400.8 497.6,412.2 509.0,420.3 518.8,426.0 528.5,431.7 536.6,436.6 541.5,438.2 548.0,436.6 556.1,434.9 562.6,433.0 580.5,432.5 587.8,428.9 593.5,427.6 608.1,426.8 619.5,424.4 628.5,419.2 637.4,414.6 643.9,408.9 649.6,400.8 655.0,391.0 661.9,380.0 669.3,370.3 676.6,358.9 683.9,347.5 692.0,338.6 701.8,329.6 709.9,323.1 718.0,317.4 724.5,316.3 732.6,313.4 740.8,310.5 750.5,306.1 760.3,300.7 770.0,293.1 779.8,287.4 787.9,282.5 796.0,278.4 805.8,270.3 813.1,267.1 820.4,268.2 831.8,273.6 843.2,278.4 850.0,279.3 859.8,283.3 869.5,284.9 882.5,287.7 895.5,287.1 903.6,286.1 911.8,286.1 918.3,287.7 928.0,291.4 939.4,297.1 947.5,301.2 955.6,306.1 963.8,309.8 971.9,313.4 980.0,313.7 989.8,311.8 997.9,310.5 1006.0,306.9 1014.2,301.2 1022.3,295.5 1032.0,286.6 1041.8,279.3 1051.5,271.1 1059.7,265.4 1066.0,261.4 1075.0,256.2 1087.5,248.8 1100.0,238.8 1112.5,228.0 1125.0,214.5 1137.5,200.5 1150.0,192.0 1162.5,181.2 1175.0,176.2 1187.5,172.5 1200.0,167.5 1212.5,165.5 1225.0,161.2 1237.5,153.8 1250.0,146.2 1262.5,138.8 1275.0,133.8 1287.5,131.2 1300.0,129.5 1312.5,129.5 1325.0,130.5 1340.0,129.5 1355.0,126.2 1370.0,120.0 1387.5,111.2 1402.5,108.0 1420.0,103.8 1440.0,102.5 1455.0,101.8 1465.0,99.5 1480.0,97.5 1495.0,97.5 1510.0,101.2 1525.0,104.5 1540.0,110.5 1555.0,115.0 1570.0,119.5 1585.0,123.8 1600.0,127.5 1612.5,131.2 1625.0,133.8 1640.0,134.2 1650.0,133.0 1660.0,131.2" fill="none" stroke="#ffa000" stroke-width="1"/>
<polyline points="170.0,37.0 187.0,46.0 202.0,58.6 210.0,65.0 225.0,73.8 242.5,81.2 262.5,96.2 280.0,112.5 300.0,128.8 320.0,146.2 337.5,162.5 355.0,180.0 370.0,195.0 387.5,211.2 405.0,228.8 420.0,242.5 435.0,253.8 450.0,262.5 465.0,273.8 480.0,286.2 495.0,300.0 510.0,313.8 525.0,326.2 540.0,337.5 555.0,347.5 570.0,355.0 585.0,362.5 600.0,368.8 615.0,371.2 640.0,371.4 664.4,370.6 672.5,370.6 683.9,373.0 696.9,374.3 709.9,374.3 714.8,372.2 740.8,371.9 750.5,370.0 770.0,366.7 786.3,361.3 802.5,356.5 818.8,351.6 835.0,347.2 850.0,345.6 866.3,343.9 879.3,343.0 893.1,341.0 903.6,337.0 915.0,332.1 931.3,325.1 947.5,318.3 963.8,312.6 980.0,306.6 996.3,301.7 1008.5,297.9 1020.7,293.9 1036.9,288.2 1053.2,282.5 1062.0,279.6 1075.0,275.5 1090.0,271.2 1107.5,269.5 1125.0,265.0 1140.0,259.5 1155.0,253.8 1170.0,248.0 1185.0,243.0 1200.0,239.0 1220.0,234.5 1240.0,229.5 1252.5,225.0 1267.5,218.0 1282.5,212.0 1297.5,205.5 1312.5,199.2 1327.5,193.0 1342.5,186.2 1357.5,180.0 1372.5,172.5 1387.5,163.8 1402.5,155.0 1417.5,148.0 1430.0,142.5 1440.0,138.0 1455.0,134.5 1470.0,130.5 1485.0,128.0 1500.0,126.8 1515.0,125.0 1530.0,123.0 1545.0,122.0 1560.0,121.2 1575.0,120.5 1590.0,120.0 1605.0,119.5 1620.0,118.8 1635.0,118.0 1650.0,116.5 1660.0,116.2" fill="none" stroke="#ff00ff" stroke-width="1"/>
</g>
<g shape-rendering="crispEdges">
<rect x="4" y="584" width="1" height="24" fill="#c0c0c0"/>
<rect x="12" y="584" width="1" height="29" fill="#c0c0c0"/>
<rect x="20" y="584" width="1" height="34" fill="#c0c0c0"/>
<rect x="28" y="584" width="1" height="36" fill="#c0c0c0"/>
<rect x="36" y="584" width="1" height="39" fill="#c0c0c0"/>
<rect x="44" y="584" width="1" height="44" fill="#c0c0c0"/>
<rect x="52" y="584" width="1" height="44" fill="#c0c0c0"/>
<rect x="60" y="584" width="1" height="42" fill="#c0c0c0"/>
<rect x="68" y="584" width="1" height="41" fill="#c0c0c0"/>
<rect x="76" y="584" width="1" height="38" fill="#c0c0c0"/>
<rect x="84" y="584" width="1" height="41" fill="#c0c0c0"/>
<rect x="92" y="584" width="1" height="34" fill="#c0c0c0"/>
<rect x="100" y="584" width="1" height="32" fill="#c0c0c0"/>
<rect x="108" y="584" width="1" height="31" fill="#c0c0c0"/>
<rect x="116" y="584" width="1" height="31" fill="#c0c0c0"/>
<rect x="124" y="584" width="1" height="29" fill="#c0c0c0"/>
<rect x="132" y="584" width="1" height="30" fill="#c0c0c0"/>
<rect x="140" y="584" width="1" height="32" fill="#c0c0c0"/>
<rect x="148" y="584" width="1" height="34" fill="#c0c0c0"/>
<rect x="156" y="584" width="1" height="39" fill="#c0c0c0"/>
<rect x="164" y="584" width="1" height="43" fill="#c0c0c0"/>
<rect x="172" y="584" width="1" height="47" fill="#c0c0c0"/>
<rect x="180" y="584" width="1" height="54" fill="#c0c0c0"/>
<rect x="188" y="584" width="1" height="62" fill="#c0c0c0"/>
<rect x="196" y="584" width="1" height="69" fill="#c0c0c0"/>
<rect x="204" y="584" width="1" height="74" fill="#c0c0c0"/>
<rect x="212" y="584" width="1" height="69" fill="#c0c0c0"/>
<rect x="220" y="584" width="1" height="64" fill="#c0c0c0"/>
<rect x="228" y="584" width="1" height="62" fill="#c0c0c0"/>
<rect x="236" y="584" width="1" height="52" fill="#c0c0c0"/>
<rect x="244" y="584" width="1" height="44" fill="#c0c0c0"/>
<rect x="252" y="584" width="1" height="42" fill="#c0c0c0"/>
<rect x="260" y="584" width="1" height="41" fill="#c0c0c0"/>
<rect x="268" y="584" width="1" height="41" fill="#c0c0c0"/>
<rect x="276" y="584" width="1" height="49" fill="#c0c0c0"/>
<rect x="284" y="584" width="1" height="49" fill="#c0c0c0"/>
<rect x="292" y="584" width="1" height="49" fill="#c0c0c0"/>
<rect x="300" y="584" width="1" height="46" fill="#c0c0c0"/>
<rect x="308" y="584" width="1" height="48" fill="#c0c0c0"/>
<rect x="316" y="584" width="1" height="46" fill="#c0c0c0"/>
<rect x="324" y="584" width="1" height="41" fill="#c0c0c0"/>
<rect x="332" y="584" width="1" height="44" fill="#c0c0c0"/>
<rect x="340" y="584" width="1" height="47" fill="#c0c0c0"/>
<rect x="348" y="584" width="1" height="47" fill="#c0c0c0"/>
<rect x="356" y="584" width="1" height="46" fill="#c0c0c0"/>
<rect x="364" y="584" width="1" height="46" fill="#c0c0c0"/>
<rect x="372" y="584" width="1" height="44" fill="#c0c0c0"/>
<rect x="380" y="584" width="1" height="49" fill="#c0c0c0"/>
<rect x="388" y="584" width="1" height="49" fill="#c0c0c0"/>
<rect x="396" y="584" width="1" height="47" fill="#c0c0c0"/>
<rect x="404" y="584" width="1" height="44" fill="#c0c0c0"/>
<rect x="412" y="584" width="1" height="41" fill="#c0c0c0"/>
<rect x="420" y="584" width="1" height="41" fill="#c0c0c0"/>
<rect x="428" y="584" width="1" height="39" fill="#c0c0c0"/>
<rect x="436" y="584" width="1" height="32" fill="#c0c0c0"/>
<rect x="444" y="584" width="1" height="27" fill="#c0c0c0"/>
<rect x="452" y="584" width="1" height="26" fill="#c0c0c0"/>
<rect x="460" y="584" width="1" height="31" fill="#c0c0c0"/>
<rect x="468" y="584" width="1" height="34" fill="#c0c0c0"/>
<rect x="476" y="584" width="1" height="41" fill="#c0c0c0"/>
<rect x="484" y="584" width="1" height="44" fill="#c0c0c0"/>
<rect x="492" y="584" width="1" height="47" fill="#c0c0c0"/>
<rect x="500" y="584" width="1" height="49" fill="#c0c0c0"/>
<rect x="508" y="584" width="1" height="50" fill="#c0c0c0"/>
<rect x="516" y="584" width="1" height="49" fill="#c0c0c0"/>
<rect x="524" y="584" width="1" height="46" fill="#c0c0c0"/>
<rect x="532" y="584" width="1" height="41" fill="#c0c0c0"/>
<rect x="540" y="584" width="1" height="36" fill="#c0c0c0"/>
<rect x="548" y="584" width="1" height="31" fill="#c0c0c0"/>
<rect x="556" y="584" width="1" height="23" fill="#c0c0c0"/>
<rect x="564" y="584" width="1" height="14" fill="#c0c0c0"/>
<rect x="572" y="584" width="1" height="7" fill="#c0c0c0"/>
<rect x="580" y="584" width="1" height="4" fill="#c0c0c0"/>
<rect x="588" y="583" width="1" height="2" fill="#c0c0c0"/>
<rect x="596" y="581" width="1" height="4" fill="#c0c0c0"/>
<rect x="604" y="577" width="1" height="8" fill="#c0c0c0"/>
<rect x="612" y="574" width="1" height="11" fill="#c0c0c0"/>
<rect x="620" y="571" width="1" height="14" fill="#c0c0c0"/>
<rect x="628" y="570" width="1" height="15" fill="#c0c0c0"/>
<rect x="636" y="571" width="1" height="14" fill="#c0c0c0"/>
<rect x="644" y="572" width="1" height="13" fill="#c0c0c0"/>
<rect x="652" y="564" width="1" height="21" fill="#c0c0c0"/>
<rect x="660" y="557" width="1" height="28" fill="#c0c0c0"/>
<rect x="668" y="551" width="1" height="34" fill="#c0c0c0"/>
<rect x="676" y="549" width="1" height="36" fill="#c0c0c0"/>
<rect x="684" y="549" width="1" height="36" fill="#c0c0c0"/>
<rect x="692" y="551" width="1" height="34" fill="#c0c0c0"/>
<rect x="700" y="553" width="1" height="32" fill="#c0c0c0"/>
<rect x="708" y="555" width="1" height="30" fill="#c0c0c0"/>
<rect x="716" y="557" width="1" height="28" fill="#c0c0c0"/>
<rect x="724" y="561" width="1" height="24" fill="#c0c0c0"/>
<rect x="732" y="563" width="1" height="22" fill="#c0c0c0"/>
<rect x="740" y="565" width="1" height="20" fill="#c0c0c0"/>
<rect x="748" y="566" width="1" height="19" fill="#c0c0c0"/>
<rect x="756" y="564" width="1" height="21" fill="#c0c0c0"/>
<rect x="764" y="561" width="1" height="24" fill="#c0c0c0"/>
<rect x="772" y="559" width="1" height="26" fill="#c0c0c0"/>
<rect x="780" y="557" width="1" height="28" fill="#c0c0c0"/>
<rect x="788" y="556" width="1" height="29" fill="#c0c0c0"/>
<rect x="796" y="557" width="1" height="28" fill="#c0c0c0"/>
<rect x="804" y="557" width="1" height="28" fill="#c0c0c0"/>
<rect x="812" y="559" width="1" height="26" fill="#c0c0c0"/>
<rect x="820" y="563" width="1" height="22" fill="#c0c0c0"/>
<rect x="828" y="568" width="1" height="17" fill="#c0c0c0"/>
<rect x="836" y="573" width="1" height="12" fill="#c0c0c0"/>
<rect x="844" y="577" width="1" height="8" fill="#c0c0c0"/>
<rect x="852" y="581" width="1" height="4" fill="#c0c0c0"/>
<rect x="868" y="584" width="1" height="3" fill="#c0c0c0"/>
<rect x="876" y="584" width="1" height="5" fill="#c0c0c0"/>
<rect x="884" y="584" width="1" height="5" fill="#c0c0c0"/>
<rect x="892" y="584" width="1" height="5" fill="#c0c0c0"/>
<rect x="900" y="584" width="1" height="5" fill="#c0c0c0"/>
<rect x="908" y="584" width="1" height="4" fill="#c0c0c0"/>
<rect x="916" y="584" width="1" height="3" fill="#c0c0c0"/>
<rect x="924" y="584" width="1" height="4" fill="#c0c0c0"/>
<rect x="932" y="584" width="1" height="5" fill="#c0c0c0"/>
<rect x="940" y="584" width="1" height="3" fill="#c0c0c0"/>
<rect x="948" y="584" width="1" height="5" fill="#c0c0c0"/>
<rect x="956" y="584" width="1" height="4" fill="#c0c0c0"/>
<rect x="964" y="584" width="1" height="4" fill="#c0c0c0"/>
<rect x="972" y="584" width="1" height="3" fill="#c0c0c0"/>
<rect x="980" y="584" width="1" height="1" fill="#c0c0c0"/>
<rect x="988" y="582" width="1" height="3" fill="#c0c0c0"/>
<rect x="996" y="579" width="1" height="6" fill="#c0c0c0"/>
<rect x="1004" y="576" width="1" height="9" fill="#c0c0c0"/>
<rect x="1012" y="571" width="1" height="14" fill="#c0c0c0"/>
<rect x="1020" y="567" width="1" height="18" fill="#c0c0c0"/>
<rect x="1028" y="566" width="1" height="19" fill="#c0c0c0"/>
<rect x="1036" y="561" width="1" height="24" fill="#c0c0c0"/>
<rect x="1044" y="557" width="1" height="28" fill="#c0c0c0"/>
<rect x="1052" y="554" width="1" height="31" fill="#c0c0c0"/>
<rect x="1060" y="556" width="1" height="29" fill="#c0c0c0"/>
<rect x="1068" y="557" width="1" height="28" fill="#c0c0c0"/>
<rect x="1076" y="559" width="1" height="26" fill="#c0c0c0"/>
<rect x="1084" y="560" width="1" height="25" fill="#c0c0c0"/>
<rect x="1092" y="561" width="1" height="24" fill="#c0c0c0"/>
<rect x="1100" y="559" width="1" height="26" fill="#c0c0c0"/>
<rect x="1108" y="557" width="1" height="28" fill="#c0c0c0"/>
<rect x="1116" y="555" width="1" height="30" fill="#c0c0c0"/>
<rect x="1124" y="555" width="1" height="30" fill="#c0c0c0"/>
<rect x="1132" y="553" width="1" height="32" fill="#c0c0c0"/>
<rect x="1140" y="555" width="1" height="30" fill="#c0c0c0"/>
<rect x="1148" y="552" width="1" height="33" fill="#c0c0c0"/>
<rect x="1156" y="552" width="1" height="33" fill="#c0c0c0"/>
<rect x="1164" y="551" width="1" height="34" fill="#c0c0c0"/>
<rect x="1172" y="552" width="1" height="33" fill="#c0c0c0"/>
<rect x="1180" y="555" width="1" height="30" fill="#c0c0c0"/>
<rect x="1188" y="557" width="1" height="28" fill="#c0c0c0"/>
<rect x="1196" y="558" width="1" height="27" fill="#c0c0c0"/>
<rect x="1204" y="561" width="1" height="24" fill="#c0c0c0"/>
<rect x="1212" y="562" width="1" height="23" fill="#c0c0c0"/>
<rect x="1220" y="562" width="1" height="23" fill="#c0c0c0"/>
<rect x="1228" y="561" width="1" height="24" fill="#c0c0c0"/>
<rect x="1236" y="561" width="1" height="24" fill="#c0c0c0"/>
<rect x="1244" y="561" width="1" height="24" fill="#c0c0c0"/>
<rect x="1252" y="561" width="1" height="24" fill="#c0c0c0"/>
<rect x="1260" y="560" width="1" height="25" fill="#c0c0c0"/>
<rect x="1268" y="559" width="1" height="26" fill="#c0c0c0"/>
<rect x="1276" y="559" width="1" height="26" fill="#c0c0c0"/>
<rect x="1284" y="560" width="1" height="25" fill="#c0c0c0"/>
<rect x="1292" y="562" width="1" height="23" fill="#c0c0c0"/>
<rect x="1300" y="566" width="1" height="19" fill="#c0c0c0"/>
<rect x="1308" y="568" width="1" height="17" fill="#c0c0c0"/>
<rect x="1316" y="571" width="1" height="14" fill="#c0c0c0"/>
<rect x="1324" y="574" width="1" height="11" fill="#c0c0c0"/>
<rect x="1332" y="574" width="1" height="11" fill="#c0c0c0"/>
<rect x="1340" y="574" width="1" height="11" fill="#c0c0c0"/>
<rect x="1348" y="575" width="1" height="10" fill="#c0c0c0"/>
<rect x="1356" y="575" width="1" height="10" fill="#c0c0c0"/>
<rect x="1364" y="569" width="1" height="16" fill="#c0c0c0"/>
<rect x="1372" y="568" width="1" height="17" fill="#c0c0c0"/>
<rect x="1380" y="567" width="1" height="18" fill="#c0c0c0"/>
<rect x="1388" y="566" width="1" height="19" fill="#c0c0c0"/>
<rect x="1396" y="567" width="1" height="18" fill="#c0c0c0"/>
<rect x="1404" y="567" width="1" height="18" fill="#c0c0c0"/>
<rect x="1412" y="566" width="1" height="19" fill="#c0c0c0"/>
<rect x="1420" y="567" width="1" height="18" fill="#c0c0c0"/>
<rect x="1428" y="566" width="1" height="19" fill="#c0c0c0"/>
<rect x="1436" y="567" width="1" height="18" fill="#c0c0c0"/>
<rect x="1444" y="571" width="1" height="14" fill="#c0c0c0"/>
<rect x="1452" y="571" width="1" height="14" fill="#c0c0c0"/>
<rect x="1460" y="573" width="1" height="12" fill="#c0c0c0"/>
<rect x="1468" y="575" width="1" height="10" fill="#c0c0c0"/>
<rect x="1476" y="578" width="1" height="7" fill="#c0c0c0"/>
<rect x="1484" y="581" width="1" height="4" fill="#c0c0c0"/>
<rect x="1500" y="584" width="1" height="4" fill="#c0c0c0"/>
<rect x="1508" y="584" width="1" height="7" fill="#c0c0c0"/>
<rect x="1516" y="584" width="1" height="9" fill="#c0c0c0"/>
<rect x="1524" y="584" width="1" height="11" fill="#c0c0c0"/>
<rect x="1532" y="584" width="1" height="11" fill="#c0c0c0"/>
<rect x="1540" y="584" width="1" height="10" fill="#c0c0c0"/>
<rect x="1548" y="584" width="1" height="9" fill="#c0c0c0"/>
<rect x="1556" y="584" width="1" height="7" fill="#c0c0c0"/>
<rect x="1564" y="584" width="1" height="7" fill="#c0c0c0"/>
<rect x="1572" y="584" width="1" height="6" fill="#c0c0c0"/>
<rect x="1580" y="584" width="1" height="6" fill="#c0c0c0"/>
<rect x="1588" y="584" width="1" height="5" fill="#c0c0c0"/>
<rect x="1596" y="584" width="1" height="2" fill="#c0c0c0"/>
<rect x="1604" y="584" width="1" height="2" fill="#c0c0c0"/>
<rect x="1612" y="584" width="1" height="3" fill="#c0c0c0"/>
<rect x="1620" y="584" width="1" height="3" fill="#c0c0c0"/>
<rect x="1628" y="584" width="1" height="3" fill="#c0c0c0"/>
<rect x="1636" y="584" width="1" height="2" fill="#c0c0c0"/>
<rect x="1644" y="584" width="1" height="2" fill="#c0c0c0"/>
<rect x="1652" y="584" width="1" height="1" fill="#c0c0c0"/>
<rect x="1660" y="582" width="1" height="3" fill="#c0c0c0"/>
<polyline points="4.0,595.1 12.0,598.9 20.0,602.8 27.9,604.8 35.9,608.8 43.9,612.1 51.9,616.3 59.9,619.6 67.8,620.8 75.8,623.3 83.8,624.3 99.8,624.3 107.8,623.3 115.7,621.6 123.7,620.3 131.7,619.1 139.7,617.8 147.7,617.1 155.6,617.1 163.6,619.1 171.6,620.3 179.6,622.1 187.6,625.3 195.6,630.3 203.5,634.8 211.5,638.8 219.5,642.8 227.5,645.0 235.5,646.3 243.5,646.0 251.4,644.3 259.4,642.0 267.4,639.3 275.4,636.5 283.4,634.0 291.3,632.3 299.3,630.3 307.3,630.3 349.2,631.0 355.2,630.3 374.2,630.3 395.1,631.3 403.1,631.0 411.1,630.3 420.0,630.3 436.0,627.8 451.9,622.6 467.9,620.1 475.9,619.1 483.9,619.3 491.8,620.3 499.8,621.6 507.8,623.3 515.8,624.6 523.8,628.3 531.7,629.3 539.7,629.3 547.7,628.5 555.7,625.8 563.7,623.1 571.7,617.8 579.6,612.1 587.6,608.3 595.6,602.1 603.6,595.9 611.6,590.9 619.6,585.9 627.5,581.6 635.5,577.7 643.5,575.4 651.5,573.9 659.5,570.2 667.4,566.4 675.4,563.4 683.4,560.9 691.4,559.2 699.4,557.7 707.4,555.2 715.3,553.7 723.3,553.5 731.3,553.5 739.3,554.7 747.3,557.2 755.2,558.4 763.2,559.7 771.2,560.2 779.2,560.4 787.2,560.4 795.2,560.2 803.1,559.7 811.1,559.2 819.1,558.4 827.1,558.9 835.1,560.2 840.0,561.4 852.0,565.2 860.0,568.4 867.9,570.9 875.9,574.7 883.9,577.9 891.9,580.9 899.9,584.6 907.8,586.4 915.8,587.6 923.8,588.4 931.8,589.4 939.8,589.4 964.7,589.4 979.7,588.6 989.7,587.1 1003.9,585.1 1011.9,583.9 1019.8,580.4 1027.8,577.9 1035.8,574.7 1043.8,570.9 1051.8,567.4 1059.8,564.7 1067.7,562.2 1075.7,559.7 1083.7,558.4 1099.7,557.7 1115.6,556.5 1123.6,557.2 1131.6,556.5 1147.8,555.2 1155.8,554.0 1171.8,553.5 1179.7,552.2 1187.7,553.0 1203.7,554.0 1211.7,555.2 1219.6,556.5 1235.6,558.4 1243.6,559.7 1251.6,560.4 1260.0,560.4 1284.9,560.4 1304.9,560.4 1316.1,562.2 1327.3,563.4 1334.8,565.9 1344.8,568.4 1359.8,570.2 1364.8,571.4 1389.7,571.4 1395.9,570.2 1409.7,568.9 1419.6,567.2 1429.6,566.4 1447.1,566.4 1469.5,567.7 1477.0,570.2 1484.5,571.4 1492.0,573.4 1500.0,576.4 1509.4,578.4 1515.9,580.4 1523.9,583.9 1531.9,585.9 1539.9,587.9 1547.9,589.6 1555.8,591.6 1571.8,593.4 1580.0,592.9 1596.0,591.4 1609.2,589.6 1621.7,588.9 1635.9,587.9 1651.9,586.6 1657.9,586.4" fill="none" stroke="#ff0000" stroke-width="1" stroke-dasharray="3,2.5"/>
</g>
<g shape-rendering="crispEdges">
<line x1="4" y1="699.5" x2="1679" y2="699.5" stroke="#c0c0c0" stroke-width="1" stroke-dasharray="3,3"/>
<line x1="4" y1="741.5" x2="1679" y2="741.5" stroke="#c0c0c0" stroke-width="1" stroke-dasharray="3,3"/>
<polyline points="4.0,738.1 10.0,739.3 31.9,739.3 36.2,738.1 44.4,744.3 51.1,736.3 59.9,732.6 68.6,732.1 76.1,727.4 84.8,736.3 92.3,722.4 101.0,726.4 108.5,727.6 117.2,727.6 124.7,729.4 132.2,730.4 140.2,733.3 148.4,733.3 156.4,741.3 164.6,738.8 172.1,740.8 179.6,744.3 187.6,748.3 195.8,749.6 204.0,751.3 212.0,730.1 219.5,728.4 228.2,733.3 236.2,719.4 244.4,719.4 252.4,727.4 260.7,727.4 268.1,729.4 276.4,736.3 284.4,732.6 292.3,728.4 299.3,727.4 308.1,732.3 316.3,725.4 324.3,724.4 333.0,730.1 340.5,731.3 364.2,731.3 372.4,726.4 380.4,736.3 388.4,729.4 396.6,731.3 404.1,725.4 412.8,725.4 420.0,728.4 428.0,727.4 436.2,720.4 444.2,721.4 452.4,725.1 460.4,731.3 468.6,731.3 476.9,736.3 486.1,736.3 489.8,735.3 494.8,735.3 498.6,734.3 503.6,734.3 507.3,735.3 514.8,733.8 523.5,729.6 531.5,726.4 539.7,722.4 547.7,721.4 555.9,714.4 563.4,711.4 572.2,713.4 579.6,714.4 588.4,709.4 596.4,716.4 603.8,712.4 612.1,711.1 620.8,711.1 628.3,713.1 637.0,717.4 644.5,717.4 652.5,703.4 660.7,701.4 666.9,700.2 676.4,707.4 684.4,708.9 692.4,713.4 700.6,714.4 708.1,713.4 716.3,714.4 724.8,719.4 732.5,716.4 740.5,718.4 748.5,714.4 756.7,708.4 764.2,706.4 781.7,706.4 788.4,705.4 796.7,709.4 804.1,707.4 812.4,715.4 820.3,720.4 828.3,721.9 836.6,726.4 840.0,727.4 852.5,727.4 860.5,731.3 868.7,728.4 876.2,726.4 884.9,724.4 892.4,723.4 899.9,722.4 908.6,720.4 916.1,722.4 924.8,724.4 932.3,723.4 940.3,717.4 948.5,726.4 957.2,726.4 964.2,725.4 972.2,717.4 980.9,708.9 988.4,707.4 996.4,709.4 1003.9,705.4 1012.1,700.4 1019.6,698.2 1028.3,706.4 1036.3,698.9 1043.3,697.2 1052.0,698.2 1060.0,711.4 1068.2,711.4 1076.2,712.4 1084.4,710.4 1092.4,709.4 1100.7,704.4 1108.1,700.4 1116.4,700.4 1124.4,703.4 1132.3,699.4 1140.1,710.4 1148.6,702.4 1156.3,704.4 1164.3,703.4 1172.5,711.4 1180.5,712.4 1188.0,712.4 1196.2,708.4 1204.7,714.4 1212.4,712.4 1220.4,710.4 1228.4,706.4 1236.6,708.4 1244.1,707.4 1252.8,705.4 1260.0,702.4 1268.7,703.4 1276.2,704.4 1284.2,710.4 1292.4,713.4 1300.4,720.4 1308.6,717.4 1316.9,721.4 1324.4,720.4 1332.3,713.4 1340.6,716.4 1348.6,714.4 1356.5,715.4 1364.8,704.4 1372.2,703.4 1381.0,707.4 1388.5,705.4 1396.4,713.4 1404.7,709.4 1412.2,708.4 1420.9,712.4 1428.9,709.4 1436.4,713.4 1444.6,721.4 1452.6,714.4 1460.8,721.4 1468.3,720.4 1477.0,724.4 1484.5,725.4 1492.5,729.4 1500.7,732.3 1508.2,733.3 1516.4,730.4 1524.4,730.4 1532.4,726.4 1540.6,724.4 1548.1,721.4 1556.3,720.4 1564.3,722.4 1573.0,722.4 1580.5,721.4 1588.5,719.4 1596.7,712.4 1604.7,720.4 1613.0,724.4 1620.4,725.4 1628.4,722.4 1636.7,717.4 1644.1,719.4 1652.4,711.4 1659.9,711.4" fill="none" stroke="#1e90ff" stroke-width="1"/>
</g>
<rect x="1680" y="41" width="2" height="1" fill="#000"/>
<text x="1685" y="44.6" font-size="10.0" fill="#000" textLength="37.50" lengthAdjust="spacingAndGlyphs">2914.810</text>
<rect x="1680" y="74" width="2" height="1" fill="#000"/>
<text x="1685" y="77.6" font-size="10.0" fill="#000" textLength="37.50" lengthAdjust="spacingAndGlyphs">2864.650</text>
<rect x="1680" y="107" width="2" height="1" fill="#000"/>
<text x="1685" y="110.6" font-size="10.0" fill="#000" textLength="37.50" lengthAdjust="spacingAndGlyphs">2814.490</text>
<rect x="1680" y="140" width="2" height="1" fill="#000"/>
<text x="1685" y="143.6" font-size="10.0" fill="#000" textLength="37.50" lengthAdjust="spacingAndGlyphs">2762.810</text>
<rect x="1680" y="173" width="2" height="1" fill="#000"/>
<text x="1685" y="176.6" font-size="10.0" fill="#000" textLength="37.50" lengthAdjust="spacingAndGlyphs">2712.650</text>
<rect x="1680" y="206" width="2" height="1" fill="#000"/>
<text x="1685" y="209.6" font-size="10.0" fill="#000" textLength="37.50" lengthAdjust="spacingAndGlyphs">2662.490</text>
<rect x="1680" y="239" width="2" height="1" fill="#000"/>
<text x="1685" y="242.6" font-size="10.0" fill="#000" textLength="37.50" lengthAdjust="spacingAndGlyphs">2612.330</text>
<rect x="1680" y="272" width="2" height="1" fill="#000"/>
<text x="1685" y="275.6" font-size="10.0" fill="#000" textLength="37.50" lengthAdjust="spacingAndGlyphs">2560.650</text>
<rect x="1680" y="305" width="2" height="1" fill="#000"/>
<text x="1685" y="308.6" font-size="10.0" fill="#000" textLength="37.50" lengthAdjust="spacingAndGlyphs">2510.490</text>
<rect x="1680" y="338" width="2" height="1" fill="#000"/>
<text x="1685" y="341.6" font-size="10.0" fill="#000" textLength="37.50" lengthAdjust="spacingAndGlyphs">2460.330</text>
<rect x="1680" y="371" width="2" height="1" fill="#000"/>
<text x="1685" y="374.6" font-size="10.0" fill="#000" textLength="37.50" lengthAdjust="spacingAndGlyphs">2410.170</text>
<rect x="1680" y="404" width="2" height="1" fill="#000"/>
<text x="1685" y="407.6" font-size="10.0" fill="#000" textLength="37.50" lengthAdjust="spacingAndGlyphs">2358.490</text>
<rect x="1680" y="437" width="2" height="1" fill="#000"/>
<text x="1685" y="440.6" font-size="10.0" fill="#000" textLength="37.50" lengthAdjust="spacingAndGlyphs">2308.330</text>
<rect x="1680" y="470" width="2" height="1" fill="#000"/>
<text x="1685" y="473.6" font-size="10.0" fill="#000" textLength="37.50" lengthAdjust="spacingAndGlyphs">2258.170</text>
<rect x="1680" y="503" width="2" height="1" fill="#000"/>
<text x="1685" y="506.6" font-size="10.0" fill="#000" textLength="37.50" lengthAdjust="spacingAndGlyphs">2208.010</text>
<rect x="1680" y="536" width="2" height="1" fill="#000"/>
<text x="1685" y="539.6" font-size="10.0" fill="#000" textLength="37.50" lengthAdjust="spacingAndGlyphs">2157.850</text>
<rect x="1681" y="61" width="43" height="11" fill="#ff0000"/>
<text x="1685" y="69.6" font-size="10.0" fill="#fff" textLength="37.50" lengthAdjust="spacingAndGlyphs">2875.000</text>
<rect x="1681" y="92" width="43" height="11" fill="#000000"/>
<text x="1685" y="100.6" font-size="10.0" fill="#fff" textLength="37.50" lengthAdjust="spacingAndGlyphs">2828.750</text>
<rect x="1681" y="156" width="43" height="11" fill="#32cd32"/>
<text x="1685" y="164.6" font-size="10.0" fill="#fff" textLength="37.50" lengthAdjust="spacingAndGlyphs">2730.000</text>
<rect x="1681" y="221" width="43" height="11" fill="#4169e1"/>
<text x="1685" y="229.6" font-size="10.0" fill="#fff" textLength="37.50" lengthAdjust="spacingAndGlyphs">2630.000</text>
<rect x="1681" y="293" width="43" height="11" fill="#4169e1"/>
<text x="1685" y="301.6" font-size="10.0" fill="#fff" textLength="37.50" lengthAdjust="spacingAndGlyphs">2520.000</text>
<rect x="1680" y="584" width="2" height="1" fill="#000"/>
<rect x="1680" y="543" width="1" height="1" fill="#000"/>
<rect x="1680" y="664" width="1" height="1" fill="#000"/>
<rect x="1680" y="669" width="1" height="1" fill="#000"/>
<rect x="1680" y="771" width="1" height="1" fill="#000"/>
<text x="1683" y="551.6" font-size="10.0" fill="#000" textLength="31.86" lengthAdjust="spacingAndGlyphs">66.0117</text>
<text x="1683" y="587.6" font-size="10.0" fill="#000" textLength="17.51" lengthAdjust="spacingAndGlyphs">0.00</text>
<text x="1683" y="661.6" font-size="10.0" fill="#000" textLength="35.52" lengthAdjust="spacingAndGlyphs">-126.173</text>
<text x="1683.5" y="677.6" font-size="10.0" fill="#000" textLength="15.01" lengthAdjust="spacingAndGlyphs">100</text>
<text x="1683.5" y="702.6" font-size="10.0" fill="#000" textLength="10.01" lengthAdjust="spacingAndGlyphs">70</text>
<text x="1683.5" y="744.6" font-size="10.0" fill="#000" textLength="10.01" lengthAdjust="spacingAndGlyphs">30</text>
<text x="1683.5" y="768.6" font-size="10.0" fill="#000" textLength="5.00" lengthAdjust="spacingAndGlyphs">0</text>
<path d="M7.5 43.5 h7 l-3.5 4 z" fill="#000"/>
<text x="19" y="47.9" font-size="10.0" fill="#000" textLength="211.50" lengthAdjust="spacingAndGlyphs">SP500-,H4&#160; 2828.000 2830.750 2825.000 2828.750</text>
<text x="8.5" y="553.6" font-size="10.0" fill="#000" textLength="130.50" lengthAdjust="spacingAndGlyphs">MACD(12,26,9) 4.7025 -1.7286</text>
<text x="8.5" y="679.6" font-size="10.0" fill="#000" textLength="67.00" lengthAdjust="spacingAndGlyphs">RSI(14) 58.9730</text>
<rect x="4" y="773" width="1" height="3" fill="#000"/>
<text x="3.5" y="784.6" font-size="10.0" fill="#000" textLength="47.34" lengthAdjust="spacingAndGlyphs">8 Mar 2020</text>
<rect x="68" y="773" width="1" height="3" fill="#000"/>
<text x="67.5" y="784.6" font-size="10.0" fill="#000" textLength="55.15" lengthAdjust="spacingAndGlyphs">10 Mar 04:00</text>
<rect x="132" y="773" width="1" height="3" fill="#000"/>
<text x="131.5" y="784.6" font-size="10.0" fill="#000" textLength="54.45" lengthAdjust="spacingAndGlyphs">11 Mar 12:00</text>
<rect x="196" y="773" width="1" height="3" fill="#000"/>
<text x="195.5" y="784.6" font-size="10.0" fill="#000" textLength="55.15" lengthAdjust="spacingAndGlyphs">12 Mar 20:00</text>
<rect x="260" y="773" width="1" height="3" fill="#000"/>
<text x="259.5" y="784.6" font-size="10.0" fill="#000" textLength="55.15" lengthAdjust="spacingAndGlyphs">16 Mar 00:00</text>
<rect x="324" y="773" width="1" height="3" fill="#000"/>
<text x="323.5" y="784.6" font-size="10.0" fill="#000" textLength="55.15" lengthAdjust="spacingAndGlyphs">17 Mar 16:00</text>
<rect x="388" y="773" width="1" height="3" fill="#000"/>
<text x="387.5" y="784.6" font-size="10.0" fill="#000" textLength="55.15" lengthAdjust="spacingAndGlyphs">19 Mar 04:00</text>
<rect x="452" y="773" width="1" height="3" fill="#000"/>
<text x="451.5" y="784.6" font-size="10.0" fill="#000" textLength="55.15" lengthAdjust="spacingAndGlyphs">20 Mar 12:00</text>
<rect x="516" y="773" width="1" height="3" fill="#000"/>
<text x="515.5" y="784.6" font-size="10.0" fill="#000" textLength="55.15" lengthAdjust="spacingAndGlyphs">23 Mar 16:00</text>
<rect x="580" y="773" width="1" height="3" fill="#000"/>
<text x="579.5" y="784.6" font-size="10.0" fill="#000" textLength="55.15" lengthAdjust="spacingAndGlyphs">25 Mar 00:00</text>
<rect x="644" y="773" width="1" height="3" fill="#000"/>
<text x="643.5" y="784.6" font-size="10.0" fill="#000" textLength="55.15" lengthAdjust="spacingAndGlyphs">26 Mar 08:00</text>
<rect x="708" y="773" width="1" height="3" fill="#000"/>
<text x="707.5" y="784.6" font-size="10.0" fill="#000" textLength="55.15" lengthAdjust="spacingAndGlyphs">27 Mar 16:00</text>
<rect x="772" y="773" width="1" height="3" fill="#000"/>
<text x="771.5" y="784.6" font-size="10.0" fill="#000" textLength="55.15" lengthAdjust="spacingAndGlyphs">30 Mar 20:00</text>
<rect x="836" y="773" width="1" height="3" fill="#000"/>
<text x="835.5" y="784.6" font-size="10.0" fill="#000" textLength="48.33" lengthAdjust="spacingAndGlyphs">1 Apr 04:00</text>
<rect x="900" y="773" width="1" height="3" fill="#000"/>
<text x="899.5" y="784.6" font-size="10.0" fill="#000" textLength="48.33" lengthAdjust="spacingAndGlyphs">2 Apr 12:00</text>
<rect x="964" y="773" width="1" height="3" fill="#000"/>
<text x="963.5" y="784.6" font-size="10.0" fill="#000" textLength="48.33" lengthAdjust="spacingAndGlyphs">3 Apr 20:00</text>
<rect x="1028" y="773" width="1" height="3" fill="#000"/>
<text x="1027.5" y="784.6" font-size="10.0" fill="#000" textLength="48.33" lengthAdjust="spacingAndGlyphs">7 Apr 00:00</text>
<rect x="1092" y="773" width="1" height="3" fill="#000"/>
<text x="1091.5" y="784.6" font-size="10.0" fill="#000" textLength="48.33" lengthAdjust="spacingAndGlyphs">8 Apr 08:00</text>
<rect x="1156" y="773" width="1" height="3" fill="#000"/>
<text x="1155.5" y="784.6" font-size="10.0" fill="#000" textLength="48.33" lengthAdjust="spacingAndGlyphs">9 Apr 16:00</text>
<rect x="1220" y="773" width="1" height="3" fill="#000"/>
<text x="1219.5" y="784.6" font-size="10.0" fill="#000" textLength="53.59" lengthAdjust="spacingAndGlyphs">13 Apr 20:00</text>
<rect x="1284" y="773" width="1" height="3" fill="#000"/>
<text x="1283.5" y="784.6" font-size="10.0" fill="#000" textLength="53.59" lengthAdjust="spacingAndGlyphs">15 Apr 04:00</text>
<rect x="1348" y="773" width="1" height="3" fill="#000"/>
<text x="1347.5" y="784.6" font-size="10.0" fill="#000" textLength="53.59" lengthAdjust="spacingAndGlyphs">16 Apr 12:00</text>
<rect x="1412" y="773" width="1" height="3" fill="#000"/>
<text x="1411.5" y="784.6" font-size="10.0" fill="#000" textLength="53.59" lengthAdjust="spacingAndGlyphs">17 Apr 20:00</text>
<rect x="1476" y="773" width="1" height="3" fill="#000"/>
<text x="1475.5" y="784.6" font-size="10.0" fill="#000" textLength="53.59" lengthAdjust="spacingAndGlyphs">21 Apr 00:00</text>
<rect x="1540" y="773" width="1" height="3" fill="#000"/>
<text x="1539.5" y="784.6" font-size="10.0" fill="#000" textLength="53.59" lengthAdjust="spacingAndGlyphs">22 Apr 08:00</text>
<rect x="1604" y="773" width="1" height="3" fill="#000"/>
<text x="1603.5" y="784.6" font-size="10.0" fill="#000" textLength="53.59" lengthAdjust="spacingAndGlyphs">23 Apr 16:00</text>
<g fill="none" stroke="#ff2000" stroke-width="46" stroke-linecap="butt" stroke-linejoin="miter">
<g transform="translate(1250,400) scale(0.05252)">
<!-- duo -->
<path d="M370,125 L125,305"/>
<path d="M325,205 L610,205 Q440,385 105,445"/>
<path d="M275,285 L335,345"/>
<path d="M460,375 Q330,480 140,562"/>
<path d="M430,430 L640,430 Q500,640 120,692"/>
<path d="M338,528 L392,592"/>
<!-- kong -->
<path d="M968,128 L1012,192"/>
<path d="M740,305 L740,210 L1235,210 L1235,305"/>
<path d="M915,290 L712,432"/>
<path d="M1052,290 L1268,428"/>
<path d="M775,450 L1195,450"/>
<path d="M990,450 L990,655"/>
<path d="M718,655 L1262,655"/>
</g>
<g transform="translate(1315,400) scale(0.05252)">
<!-- zhuan -->
<path d="M70,235 L320,235"/>
<path d="M192,122 L95,430 L320,430"/>
<path d="M215,295 L215,705"/>
<path d="M62,578 L322,525"/>
<path d="M350,235 L628,235"/>
<path d="M325,355 L652,355"/>
<path d="M468,128 L385,470 L605,470 L500,592"/>
<path d="M368,552 L568,692"/>
<!-- zhe -->
<path d="M685,265 L875,265"/>
<path d="M782,132 L782,640 Q782,688 688,672"/>
<path d="M672,468 L872,398"/>
<path d="M1238,163 L935,205"/>
<path d="M935,195 L935,430 Q930,600 858,692"/>
<path d="M935,370 L1268,370"/>
<path d="M1135,370 L1135,705"/>
</g>
<g transform="translate(1375,400) scale(0.05252)">
<!-- dian -->
<path d="M430,118 L430,322"/>
<path d="M430,210 L718,210"/>
<path d="M240,528 L240,325 L640,325 L640,528"/>
<path d="M240,495 L640,495"/>
<path d="M242,568 L158,692"/>
<path d="M338,558 L388,682"/>
<path d="M478,558 L532,678"/>
<path d="M622,562 L702,692"/>
</g>
</g>
<text x="1414.9" y="433.1" font-size="36" fill="#ff2000" stroke="#ffffff" stroke-width="0.2" textLength="74.8" lengthAdjust="spacingAndGlyphs">2730</text>

<rect x="0" y="793" width="1724" height="1" fill="#e3e3e3"/>
<rect x="0" y="794" width="1724" height="6" fill="#f0f0f0"/>
<rect x="0" y="795" width="262" height="1" fill="#000"/>
<rect x="261" y="795" width="1" height="5" fill="#000"/>
<rect x="262" y="794" width="78" height="6" fill="#fff"/>
<rect x="340" y="795" width="1384" height="1" fill="#000"/>
<rect x="340" y="795" width="1" height="5" fill="#000"/>
<rect x="341" y="796" width="1" height="4" fill="#fff"/>
<rect x="85" y="797" width="1" height="3" fill="#404040"/>
<rect x="166" y="797" width="1" height="3" fill="#404040"/>
<rect x="450" y="797" width="1" height="3" fill="#404040"/>
<rect x="545" y="797" width="1" height="3" fill="#404040"/>
</svg>
</body></html>
